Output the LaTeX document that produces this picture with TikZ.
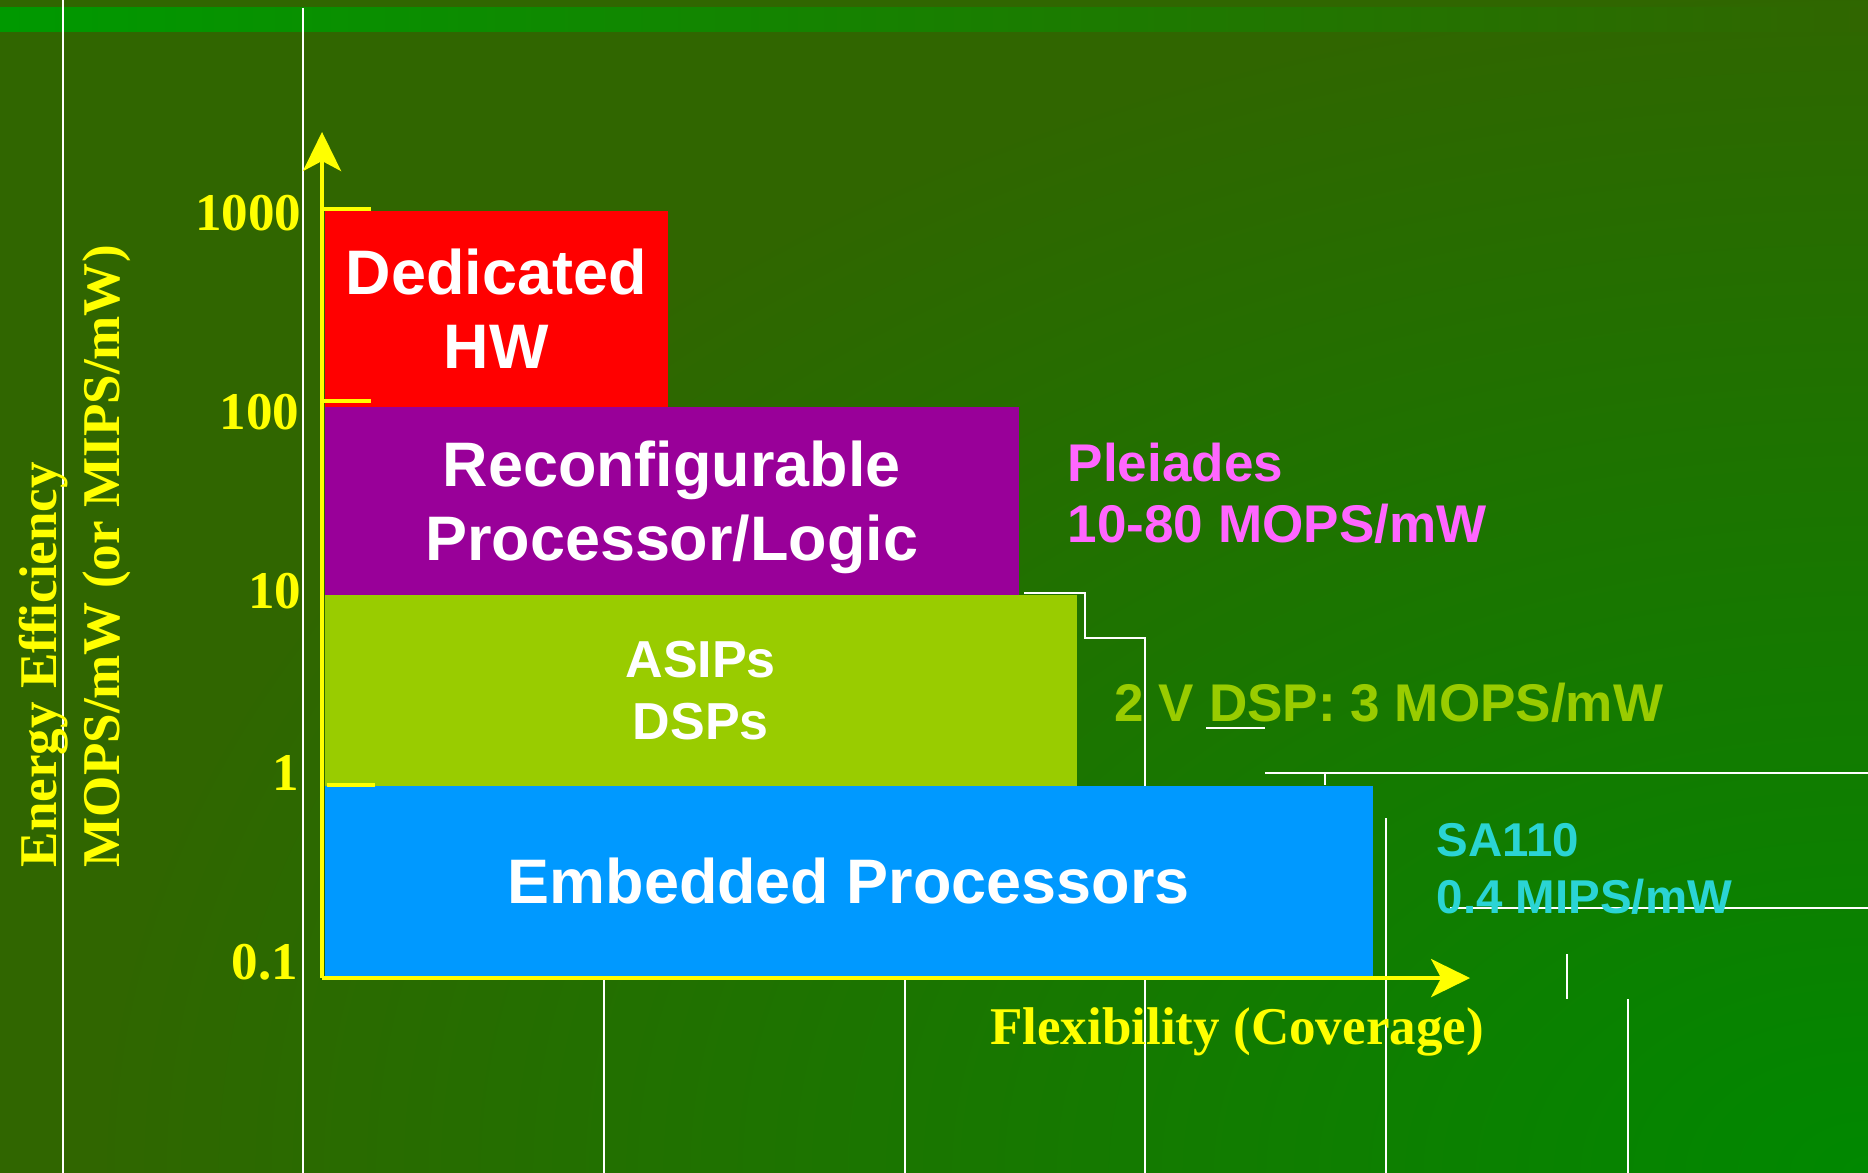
\documentclass[tikz,border=0pt]{standalone}
\usepackage{fontspec}
\usetikzlibrary{arrows.meta}
\newfontfamily\arialfont{Liberation Sans}
\newfontfamily\timesfont{Liberation Serif}
\definecolor{bgdark}{HTML}{306600}
\definecolor{bgbright}{HTML}{008800}
\definecolor{stripgreen}{HTML}{009900}
\definecolor{hwred}{HTML}{FF0000}
\definecolor{rcpurple}{HTML}{990099}
\definecolor{asipgreen}{HTML}{99CC00}
\definecolor{embblue}{HTML}{0099FF}
\definecolor{axisyellow}{HTML}{FFFF00}
\definecolor{pleiadespink}{HTML}{FF66FF}
\definecolor{sacyan}{HTML}{2AD4D4}

\begin{document}
\begin{tikzpicture}[scale=0.1]
\tikzstyle{every node}+=[inner sep=0pt]
\tikzstyle{bgline}=[white, line width=0.4pt]
\tikzstyle{axisline}=[axisyellow, line width=1.15pt, -{Stealth[length=3.9mm, width=3.8mm, inset=1mm]}]
\tikzstyle{tickmark}=[axisyellow, line width=0.95pt]
\tikzstyle{box}=[anchor=north west, text=white, align=center, font=\arialfont\bfseries\fontsize{17.9}{21.3}\selectfont]
\tikzstyle{ticklabel}=[anchor=east, text=axisyellow, font=\timesfont\bfseries\fontsize{15.1}{17.9}\selectfont]
\tikzstyle{note}=[anchor=base west, align=left, font=\arialfont\bfseries\fontsize{15.1}{17.6}\selectfont]
\useasboundingbox (0,0) rectangle (186.8,-117.3);
% background
\fill [bgdark] (0,0) rectangle (186.8,-117.3);
\begin{scope}
\clip (0,0) rectangle (186.8,-117.3);
\shade [inner color=bgbright, outer color=bgdark] (186.8,-117.3) ellipse (178 and 119);
\end{scope}
\shade [left color=stripgreen, right color=bgdark] (0,-0.8) rectangle (186.8,-3.2);
% thin white lines left over from the slide
\draw [bgline] (6.3,0) -- (6.3,-117.3);
\draw [bgline] (30.3,-0.8) -- (30.3,-117.3);
\draw [bgline] (60.4,-97.8) -- (60.4,-117.3);
\draw [bgline] (90.5,-97.8) -- (90.5,-117.3);
\draw [bgline] (102.4,-59.3) -- (108.5,-59.3) -- (108.5,-63.8) -- (114.5,-63.8) -- (114.5,-117.3);
\draw [bgline] (120.6,-72.8) -- (126.5,-72.8);
\draw [bgline] (126.5,-77.3) -- (186.8,-77.3);
\draw [bgline] (132.5,-77.3) -- (132.5,-78.5);
\draw [bgline] (138.6,-81.8) -- (138.6,-117.3);
\draw [bgline] (145.0,-90.8) -- (186.8,-90.8);
\draw [bgline] (156.7,-95.4) -- (156.7,-99.9);
\draw [bgline] (162.8,-99.9) -- (162.8,-117.3);
% blocks
\node [box, fill=hwred, minimum width=3.43cm, minimum height=1.96cm] (hw) at (32.4,-21.0) {Dedicated\\HW};
\node [box, fill=rcpurple, minimum width=6.94cm, minimum height=1.88cm, text depth=0pt] (rcp) at (32.4,-40.6) {Reconfigurable\\Processor/Logic};
\node [box, fill=asipgreen, minimum width=7.52cm, minimum height=1.91cm, font=\arialfont\bfseries\fontsize{14.8}{17.6}\selectfont] (asip) at (32.4,-59.4) {ASIPs\\DSPs};
\node [box, fill=embblue, minimum width=10.48cm, minimum height=1.91cm] (emb) at (32.4,-78.5) {Embedded Processors};
% ticks
\draw [tickmark] (32.2,-20.9) -- (37.1,-20.9);
\draw [tickmark] (32.2,-40.1) -- (37.1,-40.1);
\draw [tickmark] (32.7,-78.5) -- (37.5,-78.5);
% axes
\coordinate (o) at (32.2,-97.8);
\coordinate (ytip) at (32.2,-13.2);
\coordinate (xtip) at (147.0,-97.8);
\draw [axisline] (o) -- (ytip);
\draw [axisline] (o) -- (xtip);
\node [ticklabel] (l1000) at (30.2,-21.3) {1000};
\node [ticklabel] (l100) at (30.0,-41.2) {100};
\node [ticklabel] (l10) at (30.2,-59.1) {10};
\node [ticklabel] (l1) at (30.0,-77.3) {1};
\node [ticklabel] (l01) at (29.9,-96.2) {0.1};
\node [rotate=90, anchor=base west, text=axisyellow, font=\timesfont\bfseries\fontsize{15.1}{17.9}\selectfont] (ylab1) at (5.6,-86.8) {Energy Efficiency};
\node [rotate=90, anchor=base west, text=axisyellow, font=\timesfont\bfseries\fontsize{15.1}{17.9}\selectfont] (ylab2) at (11.9,-86.8) {MOPS/mW (or MIPS/mW)};
\node [anchor=base, text=axisyellow, font=\timesfont\bfseries\fontsize{15.1}{17.9}\selectfont] (xlab) at (123.7,-104.4) {Flexibility (Coverage)};
% side notes
\node [note, text=pleiadespink] (pleiades) at (106.7,-54.3) {Pleiades\\10-80 MOPS/mW};
\node [note, text=asipgreen] (dsp) at (111.4,-72.1) {2 V DSP: 3 MOPS/mW};
\node [note, text=sacyan, font=\arialfont\bfseries\fontsize{13.5}{16}\selectfont] (sa) at (143.6,-91.3) {SA110\\0.4 MIPS/mW};
\end{tikzpicture}
\end{document}
